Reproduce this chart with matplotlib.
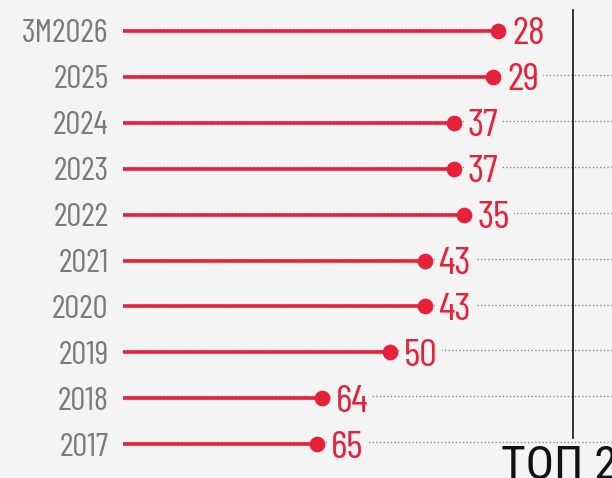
import matplotlib
matplotlib.use("Agg")
import matplotlib.pyplot as plt

# ---- data ----
periods = ["3M2026", "2025", "2024", "2023", "2022", "2021", "2020", "2019", "2018", "2017"]
ranks = [28, 29, 37, 37, 35, 43, 43, 50, 64, 65]
top_label = "ТОП 20"

BG = "#f4f4f4"
RED = "#e8213b"
GREY_TXT = "#7b7b7b"
DOT_GREY = "#8a8a8a"

FONT = ["Barlow Condensed", "Roboto Condensed", "DejaVu Sans"]
plt.rcParams["font.family"] = FONT

W, H, DPI = 612, 478, 100
fig = plt.figure(figsize=(W / DPI, H / DPI), dpi=DPI, facecolor=BG)

left_px = 123
ax = fig.add_axes([left_px / W, 0, 1 - left_px / W, 1], facecolor=BG)

base = 104.7
right_val = 4.7
ax.set_xlim(base, right_val)
row_px0, row_step = 31, 45.9
ax.set_ylim((H - row_px0) / row_step, -row_px0 / row_step)

ys = list(range(len(periods)))

# dotted guide lines
for i, (y, r) in enumerate(zip(ys, ranks)):
    xend = r if i == 0 else right_val
    ax.plot([base, xend], [y - 0.04, y - 0.04], color=DOT_GREY, lw=1.0,
            linestyle=(0, (1, 1.6)), zorder=1, solid_capstyle="butt")

# stems and dots
for y, r in zip(ys, ranks):
    ax.plot([base, r], [y, y], color=RED, lw=2.6, zorder=2, solid_capstyle="butt")
ax.scatter(ranks, ys, s=11.3 ** 2, color=RED, zorder=5, linewidths=0)

# value labels
for y, r in zip(ys, ranks):
    ax.annotate(str(r), (r, y), xytext=(10, 0), textcoords="offset points",
                ha="left", va="center_baseline", fontsize=28.5,
                color=RED, zorder=4,
                bbox=dict(boxstyle="square,pad=0.1", fc=BG, ec="none"))

# year labels
ax.set_yticks(ys)
ax.set_yticklabels(periods, fontsize=24, color=GREY_TXT, va="center_baseline")
ax.tick_params(axis="y", length=0, pad=10.5)
ax.set_xticks([])
for s in ax.spines.values():
    s.set_visible(False)

# vertical separator and caption
fig.add_artist(plt.Line2D([573 / W, 573 / W], [1 - 10 / H, 1 - 438 / H],
                          color="#222222", lw=1.3))
fig.text(501 / W, 1 - 444 / H, top_label, ha="left", va="top",
         fontsize=34, color="#111111", family=["Roboto Condensed", "DejaVu Sans"])

fig.savefig("out.png", dpi=DPI, facecolor=BG)
